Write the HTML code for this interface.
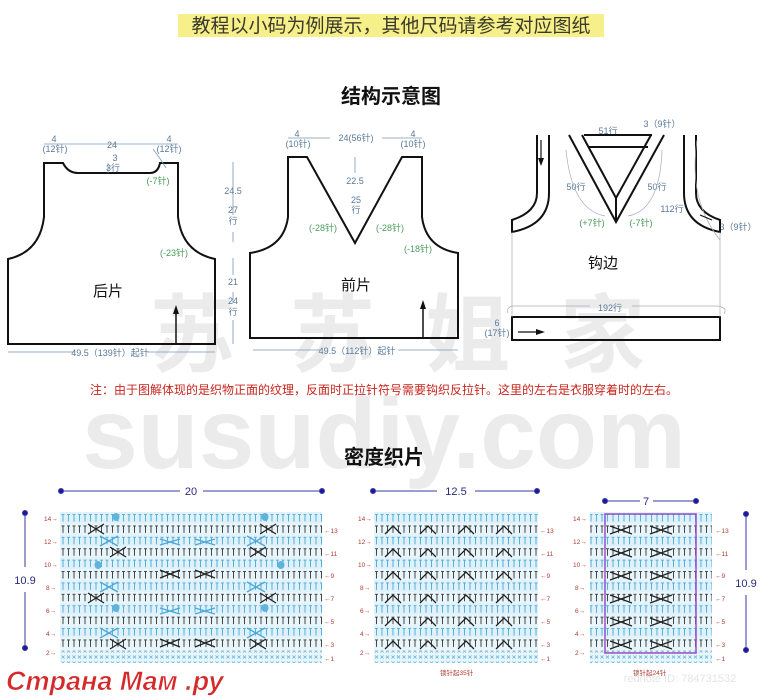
<!DOCTYPE html>
<html><head><meta charset="utf-8">
<style>
html,body{margin:0;padding:0;background:#fff;}
svg{display:block;}
text{font-family:"Liberation Sans","Noto Sans CJK SC",sans-serif;}
</style></head>
<body>
<svg width="769" height="700" viewBox="0 0 769 700" xmlns="http://www.w3.org/2000/svg">
<defs>
<pattern id="st" x="0" y="512" width="5.5" height="11.4" patternUnits="userSpaceOnUse">
<rect width="5.5" height="11.4" fill="#e8f6fc"/>
<path d="M1 2.5h3M2.5 2.5v7" stroke="#333" stroke-width="0.9" fill="none"/>
</pattern>
<pattern id="stb" x="0" y="512" width="5.5" height="11.4" patternUnits="userSpaceOnUse">
<rect width="5.5" height="11.4" fill="#dff1fa"/>
<path d="M1 2.5h3M2.5 2.5v7" stroke="#4aa8d8" stroke-width="0.9" fill="none"/>
</pattern>
<pattern id="xx" x="0" y="0" width="5.5" height="6" patternUnits="userSpaceOnUse">
<rect width="5.5" height="6" fill="#e8f6fc"/>
<path d="M1 1.5l3 3M4 1.5l-3 3" stroke="#5fb4dc" stroke-width="0.8"/>
</pattern>
</defs>

<!-- watermark -->
<g fill="#ebebeb" font-weight="bold" font-family="'Noto Sans CJK SC',sans-serif">
<text x="150" y="365" font-size="85">苏</text>
<text x="290" y="365" font-size="85">苏</text>
<text x="425" y="365" font-size="85">姐</text>
<text x="560" y="365" font-size="85">家</text>
</g>
<text x="384" y="468" font-size="100" font-weight="bold" fill="#ebebeb" text-anchor="middle" font-family="'Liberation Sans',sans-serif">susudiy.com</text>

<!-- headings -->
<rect x="178" y="14" width="426" height="23" fill="#f7ef8a"/>
<text x="391" y="32" font-size="19" fill="#3a3a2a" text-anchor="middle">教程以小码为例展示，其他尺码请参考对应图纸</text>
<text x="391" y="103" font-size="20" font-weight="bold" fill="#111" text-anchor="middle">结构示意图</text>
<text x="384" y="464" font-size="20" font-weight="bold" fill="#111" text-anchor="middle">密度织片</text>

<!-- pieces -->
<g fill="none" stroke="#111" stroke-width="2">
<path d="M44 163H63Q68 173 78 173H150Q158 173 160 163H178V217Q182 252 215 259V344H8V259Q40 252 44 217Z"/>
<path d="M288 157H307L355 243L402 157H422V217Q426 248 458 253V338H250V253Q284 248 288 217Z"/>
</g>
<path d="M176 344V312" stroke="#111" stroke-width="1.5"/><path d="M173 314L176 305L179 314Z" fill="#111"/>
<path d="M423 338V307" stroke="#111" stroke-width="1.5"/><path d="M420 309L423 300L426 309Z" fill="#111"/>
<text x="108" y="296" font-size="15" fill="#111" text-anchor="middle">后片</text>
<text x="356" y="290" font-size="15" fill="#111" text-anchor="middle">前片</text>
<text x="603" y="268" font-size="15" fill="#111" text-anchor="middle">钩边</text>

<g stroke="#7a9ab5" stroke-width="0.8" fill="none">
<path d="M44 144H178"/><path d="M108 163V173"/>
<path d="M233 162V215M233 232V242M233 258V275M233 292V303M233 320V344"/>
<path d="M8 352H75M147 352H215"/>
<path d="M288 138H330M382 138H422"/><path d="M355 157V173"/>
<path d="M253 350H320M398 350H458"/>
<path d="M153 149Q160 158 166 168"/>
</g>
<g font-size="9" fill="#5a7a9a" text-anchor="middle">
<text x="54" y="142">4</text><text x="55" y="152">(12针)</text>
<text x="112" y="148">24</text>
<text x="169" y="142">4</text><text x="169" y="152">(12针)</text>
<text x="115" y="161">3</text><text x="113" y="171">3行</text>
<text x="233" y="194">24.5</text><text x="233" y="213">27</text><text x="233" y="224">行</text>
<text x="233" y="285">21</text><text x="233" y="304">24</text><text x="233" y="315">行</text>
<text x="110" y="356">49.5（139针）起针</text>
<text x="297" y="137">4</text><text x="298" y="147">(10针)</text>
<text x="356" y="141">24(56针)</text>
<text x="413" y="137">4</text><text x="413" y="147">(10针)</text>
<text x="355" y="184">22.5</text><text x="356" y="203">25</text><text x="356" y="213">行</text>
<text x="357" y="354">49.5（112针）起针</text>
<text x="608" y="134">51行</text><text x="662" y="127">3（9针）</text>
<text x="576" y="190">50行</text><text x="657" y="190">50行</text>
<text x="672" y="212">112行</text><text x="738" y="230">3（9针）</text>
<text x="610" y="311">192行</text>
<text x="497" y="326">6</text><text x="497" y="336">(17针)</text>
</g>
<g font-size="9" fill="#4a9a5a" text-anchor="middle">
<text x="158" y="184">(-7针)</text>
<text x="174" y="256">(-23针)</text>
<text x="323" y="231">(-28针)</text>
<text x="390" y="231">(-28针)</text>
<text x="418" y="252">(-18针)</text>
<text x="592" y="226">(+7针)</text>
<text x="641" y="226">(-7针)</text>
</g>

<g fill="none" stroke="#111" stroke-width="2">
<path d="M537 135V193Q537 212 512 220V232Q549 225 549 193V135"/>
<path d="M696 135V193Q696 212 720 220V232Q684 225 684 193V135"/>
<path d="M569 135L616 222L664 135M582 135L616 198L651 135M584 135H652M589 147H648M616 198V222"/>
<rect x="512" y="317" width="208" height="23"/>
</g>
<g fill="none" stroke="#aab" stroke-width="0.7">
<path d="M512 232V317M720 232V317"/>
<path d="M508 313Q506 308 512 306H590M632 306H718Q728 308 724 314"/>
<path d="M566 150Q572 210 605 216M662 150Q660 210 628 216"/>
<path d="M697 140Q688 200 720 240"/>
</g>
<path d="M541 140V160" stroke="#111" stroke-width="1.2"/><path d="M538 158L541 166L544 158Z" fill="#111"/>
<path d="M518 332H538" stroke="#111" stroke-width="1.2"/><path d="M536 329L545 332L536 335Z" fill="#111"/>
<path d="M700 215L712 220" stroke="#111" stroke-width="1.2"/>

<text x="384" y="394" font-size="12" fill="#c8261e" text-anchor="middle">注：由于图解体现的是织物正面的纹理，反面时正拉针符号需要钩织反拉针。这里的左右是衣服穿着时的左右。</text>

<!-- swatch charts -->
<g>
<rect x="60" y="512" width="262" height="151" fill="url(#st)"/>
<rect x="374" y="512" width="164" height="151" fill="url(#st)"/>
<rect x="590" y="512" width="122" height="151" fill="url(#st)"/>
<g fill="url(#stb)">
<rect x="60" y="512" width="262" height="11.4"/><rect x="60" y="534.8" width="262" height="11.4"/><rect x="60" y="557.6" width="262" height="11.4"/><rect x="60" y="580.4" width="262" height="11.4"/><rect x="60" y="603.2" width="262" height="11.4"/><rect x="60" y="626" width="262" height="11.4"/>
<rect x="374" y="512" width="164" height="11.4"/><rect x="374" y="534.8" width="164" height="11.4"/><rect x="374" y="557.6" width="164" height="11.4"/><rect x="374" y="580.4" width="164" height="11.4"/><rect x="374" y="603.2" width="164" height="11.4"/><rect x="374" y="626" width="164" height="11.4"/>
<rect x="590" y="512" width="122" height="11.4"/><rect x="590" y="534.8" width="122" height="11.4"/><rect x="590" y="557.6" width="122" height="11.4"/><rect x="590" y="580.4" width="122" height="11.4"/><rect x="590" y="603.2" width="122" height="11.4"/><rect x="590" y="626" width="122" height="11.4"/>
</g>
<rect x="60" y="651" width="262" height="12" fill="url(#xx)"/>
<rect x="374" y="651" width="164" height="12" fill="url(#xx)"/>
<rect x="590" y="651" width="122" height="12" fill="url(#xx)"/>
<g stroke="#222" stroke-width="1.3" fill="none">
<path d="M88 524l16 10M88 534l16-10M88 593l16 10M88 603l16-10M110 547l16 10M110 557l16-10M110 639l16 10M110 649l16-10"/>
<path d="M260 524l16 10M260 534l16-10M260 593l16 10M260 603l16-10M250 547l16 10M250 557l16-10M250 639l16 10M250 649l16-10"/>
<path d="M160 570l20 8M160 578l20-8M195 570l20 8M195 578l20-8M160 639l20 8M160 647l20-8M195 639l20 8M195 647l20-8"/>
<path d="M385 534l8-8l8 8M420 534l8-8l8 8M458 534l8-8l8 8M496 534l8-8l8 8M385 557l8-8l8 8M420 557l8-8l8 8M458 557l8-8l8 8M496 557l8-8l8 8M385 580l8-8l8 8M420 580l8-8l8 8M458 580l8-8l8 8M496 580l8-8l8 8M385 603l8-8l8 8M420 603l8-8l8 8M458 603l8-8l8 8M496 603l8-8l8 8M385 626l8-8l8 8M420 626l8-8l8 8M458 626l8-8l8 8M496 626l8-8l8 8M385 649l8-8l8 8M420 649l8-8l8 8M458 649l8-8l8 8M496 649l8-8l8 8"/>
<path d="M610 526l22 8M610 534l22-8M650 526l22 8M650 534l22-8M610 549l22 8M610 557l22-8M650 549l22 8M650 557l22-8M610 572l22 8M610 580l22-8M650 572l22 8M650 580l22-8M610 595l22 8M610 603l22-8M650 595l22 8M650 603l22-8M610 618l22 8M610 626l22-8M650 618l22 8M650 626l22-8M610 641l22 8M610 649l22-8M650 641l22 8M650 649l22-8"/>
</g>
<g stroke="#4aa8d8" stroke-width="1.3" fill="none">
<path d="M100 536l18 10M100 546l18-10M265 536l-18 10M265 546l-18-10M100 582l18 10M100 592l18-10M265 582l-18 10M265 592l-18-10M100 628l18 10M100 638l18-10M265 628l-18 10M265 638l-18-10"/>
<path d="M160 539l20 6M160 545l20-6M195 539l20 6M195 545l20-6M160 608l20 6M160 614l20-6M195 608l20 6M195 614l20-6"/>
</g>
<g fill="#5fb4dc"><ellipse cx="116" cy="517" rx="3.5" ry="4"/><ellipse cx="265" cy="517" rx="3.5" ry="4"/><ellipse cx="98" cy="565" rx="3.5" ry="4"/><ellipse cx="281" cy="565" rx="3.5" ry="4"/><ellipse cx="116" cy="608" rx="3.5" ry="4"/><ellipse cx="265" cy="608" rx="3.5" ry="4"/></g>
<rect x="605" y="514" width="91" height="139" fill="none" stroke="#9a4fc8" stroke-width="1.5"/>
</g>
<g font-size="6.5" fill="#b03a30">
<text x="44" y="521">14→</text><text x="44" y="544">12→</text><text x="44" y="567">10→</text><text x="46" y="590">8→</text><text x="46" y="613">6→</text><text x="46" y="636">4→</text><text x="46" y="655">2→</text>
<text x="324" y="533">←13</text><text x="324" y="556">←11</text><text x="324" y="578">←9</text><text x="324" y="601">←7</text><text x="324" y="624">←5</text><text x="324" y="647">←3</text><text x="324" y="661">←1</text>
<text x="358" y="521">14→</text><text x="358" y="544">12→</text><text x="358" y="567">10→</text><text x="360" y="590">8→</text><text x="360" y="613">6→</text><text x="360" y="636">4→</text><text x="360" y="655">2→</text>
<text x="540" y="533">←13</text><text x="540" y="556">←11</text><text x="540" y="578">←9</text><text x="540" y="601">←7</text><text x="540" y="624">←5</text><text x="540" y="647">←3</text><text x="540" y="661">←1</text>
<text x="573" y="521">14→</text><text x="573" y="544">12→</text><text x="573" y="567">10→</text><text x="575" y="590">8→</text><text x="575" y="613">6→</text><text x="575" y="636">4→</text><text x="575" y="655">2→</text>
<text x="715" y="533">←13</text><text x="715" y="556">←11</text><text x="715" y="578">←9</text><text x="715" y="601">←7</text><text x="715" y="624">←5</text><text x="715" y="647">←3</text><text x="715" y="661">←1</text>
<text x="440" y="675">锁针起35针</text><text x="633" y="675">锁针起24针</text>
</g>
<g stroke="#3a3aa0" stroke-width="1" fill="#1a1aa0">
<path d="M61 491H180M203 491H322"/><circle cx="61" cy="491" r="2.5"/><circle cx="322" cy="491" r="2.5"/>
<path d="M373 491H437M475 491H537"/><circle cx="373" cy="491" r="2.5"/><circle cx="537" cy="491" r="2.5"/>
<path d="M605 501H640M653 501H696"/><circle cx="605" cy="501" r="2.5"/><circle cx="696" cy="501" r="2.5"/>
<path d="M25 513V567M25 592V648"/><circle cx="25" cy="513" r="2.5"/><circle cx="25" cy="648" r="2.5"/>
<path d="M746 514V570M746 595V650"/><circle cx="746" cy="514" r="2.5"/><circle cx="746" cy="650" r="2.5"/>
</g>
<g font-size="11" fill="#2a2a80" text-anchor="middle">
<text x="191" y="495">20</text><text x="456" y="495">12.5</text><text x="646" y="505">7</text>
<text x="25" y="584">10.9</text><text x="746" y="587">10.9</text>
</g>
<text x="680" y="682" font-size="11" fill="#e4e4e4" text-anchor="middle">rednote ID: 784731532</text>
<text x="6" y="690" font-size="27" font-style="italic" font-weight="bold" fill="#d42a2a" font-family="'Liberation Serif',serif" stroke="#fff" stroke-width="0.6">Страна Мам .ру</text>
</svg>
</body></html>
